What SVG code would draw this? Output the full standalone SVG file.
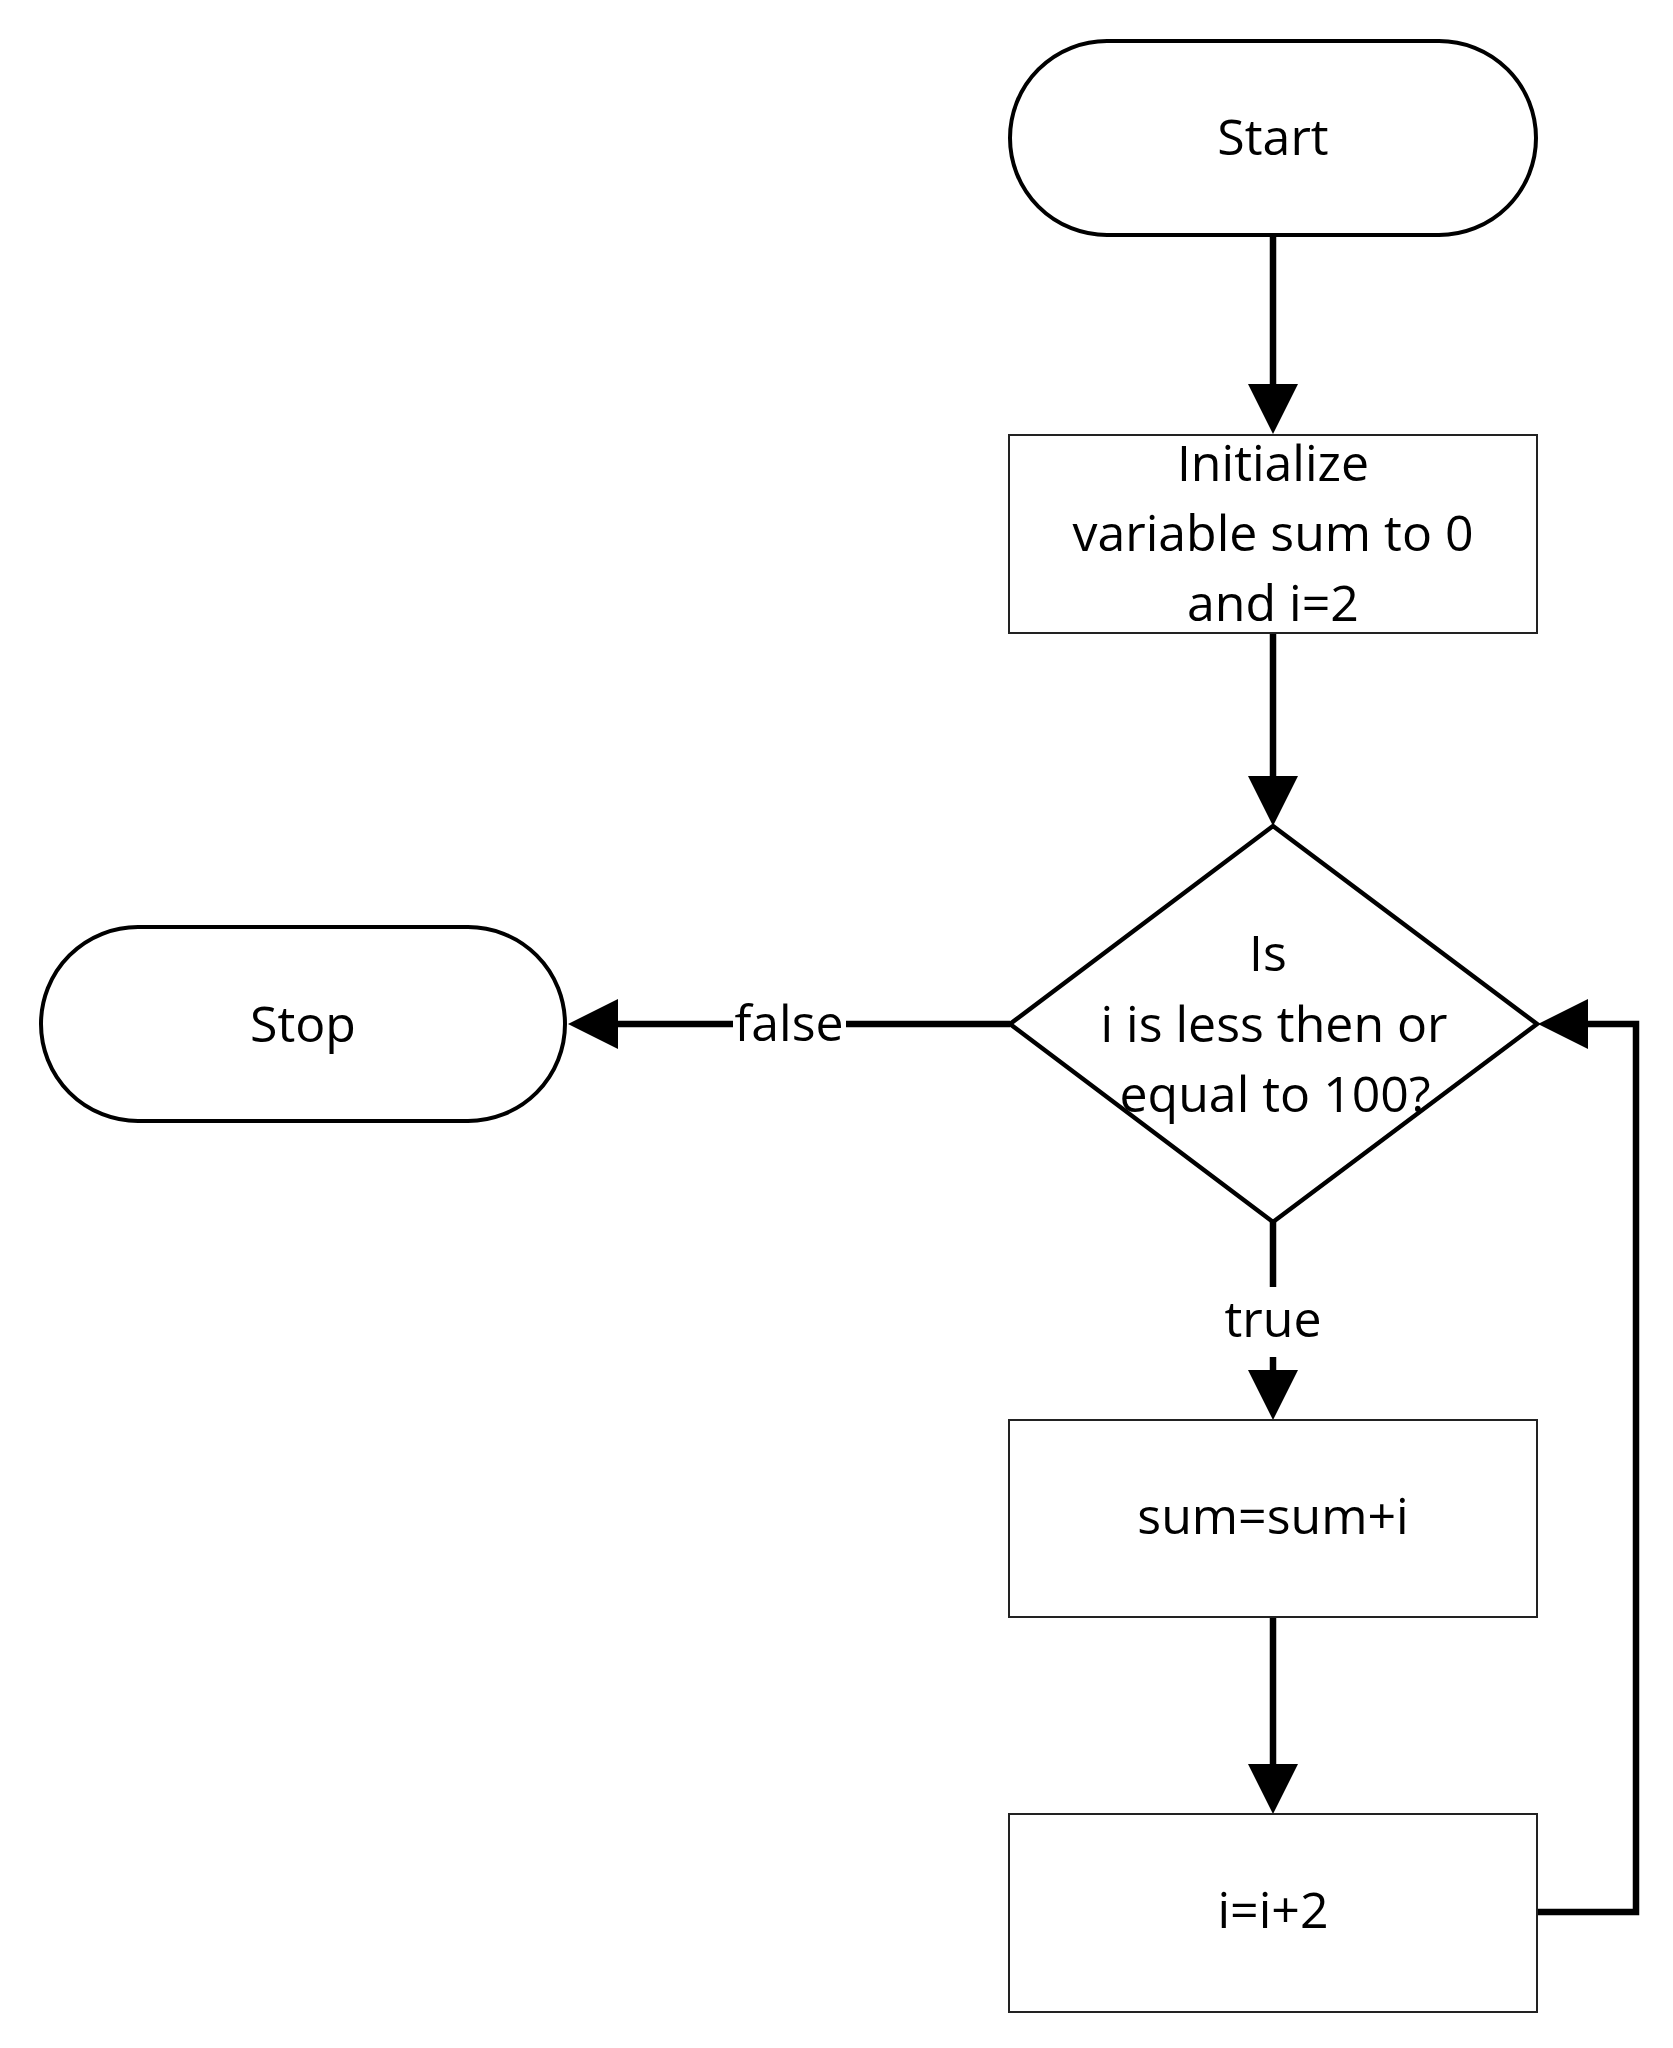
<svg xmlns="http://www.w3.org/2000/svg" width="1673" height="2048" viewBox="0 0 1673 2048">
<defs>
<style>
.term{fill:#fff;stroke:#000;stroke-width:4}
.proc{fill:#fff;stroke:#222;stroke-width:2}
.dec{fill:#fff;stroke:#000;stroke-width:4.5;stroke-linejoin:miter}
.t{font-family:"Open Sans","Liberation Sans",sans-serif;font-size:50px;fill:#000;text-anchor:middle}
.c{fill:none;stroke:#000;stroke-width:6.5;stroke-linejoin:miter}
.lbg{fill:#fff;stroke:none}
</style>
<marker id="arr" markerUnits="userSpaceOnUse" markerWidth="50" markerHeight="50" refX="0" refY="25" orient="auto" overflow="visible">
<path d="M0,0 L50,25 L0,50 z" fill="#000"/>
</marker>
</defs>
<rect width="1673" height="2048" fill="#fff"/>
<g id="connectors">
<path class="c" d="M1273,237 V384" marker-end="url(#arr)"/>
<path class="c" d="M1273,633 V776" marker-end="url(#arr)"/>
<path class="c" d="M1010,1024 H618" marker-end="url(#arr)"/>
<path class="c" d="M1273,1222 V1370" marker-end="url(#arr)"/>
<path class="c" d="M1273,1617 V1764" marker-end="url(#arr)"/>
<path class="c" d="M1537,1912 H1636 V1024 H1588" marker-end="url(#arr)"/>
<rect class="lbg" x="733" y="995" width="113" height="60"/>
<text class="t" x="789" y="1041">false</text>
<rect class="lbg" x="1230" y="1287" width="86" height="70"/>
<text class="t" x="1273" y="1337">true</text>
</g>
<g id="start">
<rect class="term" x="1010" y="41" width="526" height="194" rx="97" ry="97"/>
<text class="t" x="1273" y="155">Start</text>
</g>
<g id="init">
<rect class="proc" x="1009" y="435" width="528" height="198"/>
<text class="t" x="1273" y="481">Initialize</text>
<text class="t" x="1273" y="551">variable sum to 0</text>
<text class="t" x="1273" y="621">and i=2</text>
</g>
<g id="decision">
<polygon class="dec" points="1273,826 1537,1024 1273,1222 1010,1024"/>
<text class="t" x="1268" y="971">Is</text>
<text class="t" x="1274" y="1042">i is less then or</text>
<text class="t" x="1275" y="1112">equal to 100?</text>
</g>
<g id="stop">
<rect class="term" x="41" y="927" width="524" height="194" rx="97" ry="97"/>
<text class="t" x="303" y="1042">Stop</text>
</g>
<g id="sum">
<rect class="proc" x="1009" y="1420" width="528" height="197"/>
<text class="t" x="1273" y="1534">sum=sum+i</text>
</g>
<g id="incr">
<rect class="proc" x="1009" y="1814" width="528" height="198"/>
<text class="t" x="1273" y="1928">i=i+2</text>
</g>
</svg>
